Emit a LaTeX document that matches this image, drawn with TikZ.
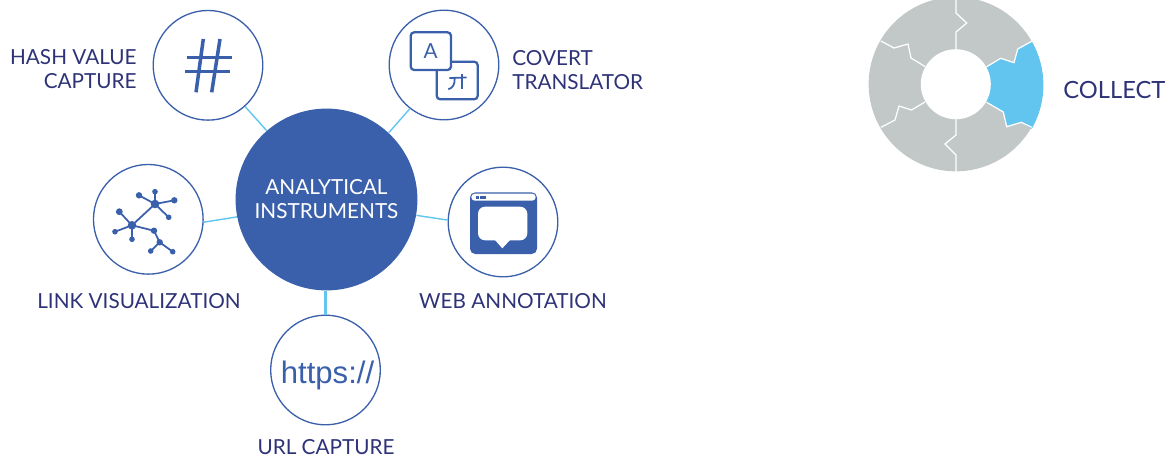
\documentclass[tikz,border=0pt]{standalone}
\usepackage{fontspec}
\setmainfont{Lato}
\usepackage{xcolor}
\definecolor{hubblue}{HTML}{3B60AB}
\definecolor{spokeblue}{HTML}{62C5F0}
\definecolor{labelblue}{HTML}{2E3378}
\definecolor{piecegrey}{HTML}{C2C8C8}
\tikzset{
    ring/.style={draw=hubblue, fill=white, circle, minimum size=62.4pt, inner sep=0pt, line width=0.75pt},
    hub/.style={fill=hubblue, circle, minimum size=103.5pt, inner sep=0pt, text=white, align=center, font=\fontsize{11.8}{13.6}\selectfont},
    spoke/.style={draw=spokeblue, line width=0.8pt},
    tag/.style={text=labelblue, font=\fontsize{11.8}{13.6}\selectfont, inner sep=0pt},
    icon/.style={draw=hubblue, fill=white, line width=1.3pt, rounded corners=2pt},
    hashbar/.style={draw=hubblue, line width=2pt},
    glyph/.style={draw=hubblue, line width=1pt},
    seam/.style={draw=white, line width=0.7pt}
}
\begin{document}
\begin{tikzpicture}[x=0.02cm,y=-0.02cm]
    \useasboundingbox (0,0) rectangle (1171,457);
    \node[hub] (hub) at (326.5,199.5) {ANALYTICAL\\INSTRUMENTS};
    \node[ring] (hash) at (208,65.3) {};
    \node[ring] (translator) at (444,65) {};
    \node[ring] (web) at (503,222) {};
    \node[ring] (url) at (325.5,370) {};
    \node[ring] (link) at (148.3,219.3) {};
    \draw[spoke] (hub.131) -- (hash.-48);
    \draw[spoke] (hub.47) -- (translator.232);
    \draw[spoke] (hub.-10) -- (web.178);
    \draw[spoke, line width=1.2pt] (url.north) -- (url.north |- hub.south);
    \draw[spoke] (hub.191) -- (link.-3);
    % labels
    \node[tag, anchor=east, align=right] (hashtag) at (137,69) {HASH VALUE\\CAPTURE};
    \node[tag, anchor=west, align=left] (translatortag) at (512,70) {COVERT\\TRANSLATOR};
    \node[tag] (webtag) at (513,301) {WEB ANNOTATION};
    \node[tag] (urltag) at (326,447) {URL CAPTURE};
    \node[tag] (linktag) at (139,301) {LINK VISUALIZATION};
    \node[tag, anchor=west, font=\fontsize{13.5}{16}\selectfont] (collecttag) at (1063,90) {COLLECT};
    % hash icon
    \draw[hashbar] (187,57.7) -- (232,57.7);
    \draw[hashbar] (185,71.7) -- (230,71.7);
    \draw[hashbar] (203.3,39) -- (196,92.3);
    \draw[hashbar] (220,39) -- (211.7,92.3);
    % translate icon
    \draw[icon] (436.7,61.7) rectangle (477.7,99.3);
    \draw[icon] (410.7,32.3) rectangle (451,70);
    \node[text=hubblue, inner sep=0pt, font=\fontsize{11.8}{12}\selectfont] (letterA) at (430.7,50.7) {A};
    \draw[glyph] (449.3,78) -- (466.7,77.5);
    \draw[glyph] (461.7,74) -- (461.7,89.3);
    \draw[glyph] (454.7,78) .. controls (455,84) and (453,88) .. (448.3,89.3);
    % link icon
    \foreach \px/\py/\qx/\qy in {155/204/132/225.3, 155/204/139/195.3, 155/204/155/191.7, 155/204/174.3/200.3, 155/204/168.7/217.3,
        132/225.3/119.3/211.7, 132/225.3/115/231.7, 132/225.3/132/239.3, 132/225.3/154/230.7, 154/230.7/159.7/242.3, 159.7/242.3/150.7/251, 159.7/242.3/172.7/251.7}
        \draw[hubblue, line width=1pt] (\px,\py) -- (\qx,\qy);
    \foreach \px/\py/\pr in {155/204/4.3, 132/225.3/4.3, 139/195.3/3.2, 155/191.7/2.8, 174.3/200.3/3.2, 168.7/217.3/2.8, 119.3/211.7/3.4,
        115/231.7/2.8, 132/239.3/2.8, 154/230.7/3.2, 159.7/242.3/3.2, 150.7/251/2.8, 172.7/251.7/2.8}
        \fill[hubblue] (\px,\py) circle[radius=\pr];
    % web icon
    \fill[hubblue, rounded corners=3pt] (470,192.3) rectangle (537,254);
    \fill[white, rounded corners=2pt] (471.3,193.7) rectangle (535.7,200.7);
    \fill[hubblue] (476,196) rectangle (479,198.7);
    \fill[hubblue] (480,196) rectangle (486,198.7);
    \fill[white, rounded corners=4pt] (478,206.7) rectangle (527.3,240.3);
    \fill[white] (495,240) -- (510,240) -- (502.3,248.3) -- cycle;
    % url text
    \node[text=hubblue, inner sep=0pt, font=\fontspec{Liberation Sans}\fontsize{17.7}{18}\selectfont] (urltext) at (327.5,375) {https://};
    % collect wheel
    \node[fill=piecegrey, circle, minimum size=99.2pt, inner sep=0pt] (wheel) at (955.8,84.2) {};
    \fill[spokeblue] (986.7,66.7) -- (1000.7,58.3) -- (1014,62.7) -- (1017.7,49) -- (1031.7,41.3)
        arc[start angle=-30, end angle=30, radius=87.5] -- (1021.3,122.3) -- (1006.7,126.7) -- (1003.3,112) -- (986.7,102.3) -- cycle;
    \draw[seam] (956,-3) -- (956,13) -- (966.7,23) -- (956,32) -- (956,49);
    \draw[seam] (986.7,66.7) -- (1000.7,58.3) -- (1014,62.7) -- (1017.7,49) -- (1031.7,41.3);
    \draw[seam] (986.7,102.3) -- (1003.3,112) -- (1006.7,126.7) -- (1021.3,122.3) -- (1031.7,127.3);
    \draw[seam] (956,119) -- (956,135) -- (945,144) -- (956,155) -- (956,172);
    \draw[seam] (925,102) -- (911.5,110) -- (899,106) -- (895,120) -- (881,127.3);
    \draw[seam] (925,66.5) -- (911,58) -- (908,44) -- (894,48) -- (881,41);
    \fill[white] (955.8,84.2) circle[radius=35];
\end{tikzpicture}
\end{document}
